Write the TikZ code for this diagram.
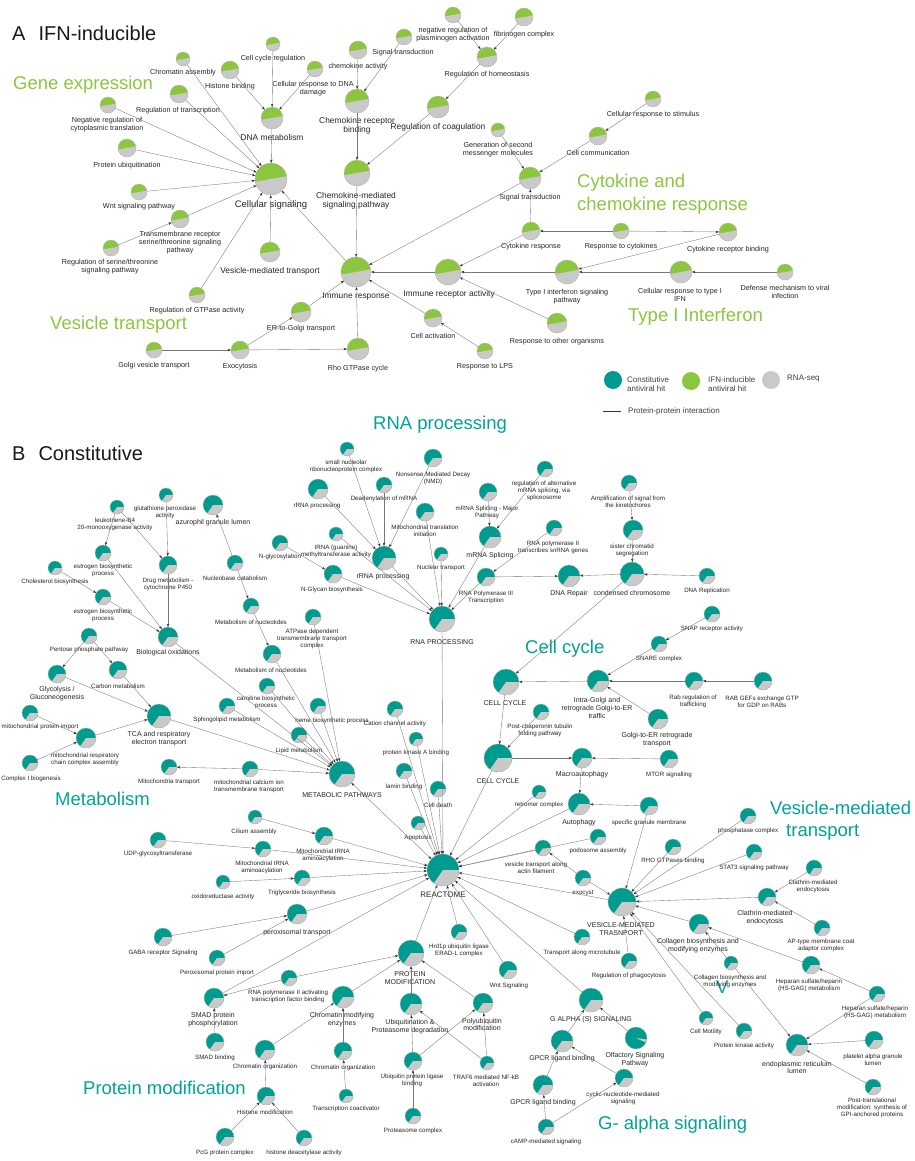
\documentclass[tikz,border=0pt]{standalone}
\usepackage{fontspec}
\setmainfont{Liberation Sans}
\usetikzlibrary{arrows.meta}
\definecolor{ig}{HTML}{8CC63F}
\definecolor{cg}{HTML}{009B8F}
\definecolor{rg}{HTML}{C9C9C9}
\definecolor{tg}{HTML}{8DC63F}
\definecolor{tt}{HTML}{00A39A}
\definecolor{ln}{HTML}{777777}
\tikzset{
 pienode/.style={circle, inner sep=0pt, outer sep=0pt, draw=none},
 graywedge/.style={fill=rg},
 pout/.style={draw=black!28, line width=0.3pt},
 edgearrow/.style={draw=ln, line width=0.35pt, -{Stealth[length=3.4pt,width=2.5pt,color=black!80]}},
 la/.style={font=\fontsize{7.2}{8}\selectfont, align=center, inner sep=0pt, text=black!85},
 lam/.style={font=\fontsize{8.4}{8.4}\selectfont, align=center, inner sep=0pt, text=black!85},
 lab/.style={font=\fontsize{6.2}{7}\selectfont, align=center, inner sep=0pt, text=black!85},
 labm/.style={font=\fontsize{7}{7.8}\selectfont, align=center, inner sep=0pt, text=black!85},
 grpA/.style={font=\fontsize{18.5}{22}\selectfont, text=tg, anchor=west, inner sep=0pt},
 grpB/.style={font=\fontsize{18.5}{22}\selectfont, text=tt, anchor=west, inner sep=0pt},
 ttl/.style={font=\fontsize{20}{24}\selectfont, anchor=west, inner sep=0pt, text=black!90},
 lgt/.style={font=\fontsize{8}{9.5}\selectfont, anchor=west, align=left, inner sep=0pt, text=black!75},
}
\newcommand{\pie}[7]{%
  \node[pienode, minimum size={2*#4pt}, fill=#5] (#1) at (#2,#3) {};
  \fill[graywedge] (#1.center) -- ++(#6:#4pt) arc[start angle=#6, end angle=#7, radius=#4pt] -- cycle;
  \draw[pout] (#1.center) circle[radius=#4pt];
}
\newcommand{\pa}[4]{\pie{#1}{#2}{#3}{#4}{ig}{190}{370}}
\newcommand{\pb}[4]{\pie{#1}{#2}{#3}{#4}{cg}{235}{360}}
\newcommand{\lab}[5][la]{\node[#1] (#2) at (#3,#4) {#5};}
\begin{document}
\begin{tikzpicture}[x=1pt,y=-1pt]
\fill[white] (0,0) rectangle (914,1161);
\useasboundingbox (0,0) rectangle (914,1161);

% ---------------- Panel A ----------------
\node[ttl] (titleA) at (12,33) {A\hspace{13pt}IFN-inducible};
\node[grpA] (gGene) at (13,85) {Gene expression};
\node[grpA] (gCyt1) at (577,183) {Cytokine and};
\node[grpA] (gCyt2) at (577,206) {chemokine response};
\node[grpA] (gVes) at (50,325) {Vesicle transport};
\node[grpA] (gIFN) at (628,317) {Type I Interferon};

\pa{chromAssembly}{183}{59}{7}
\pa{histone}{230}{70}{9}
\pa{cellCycleReg}{273}{44}{7}
\pa{dnaDamage}{315}{69}{8}
\pa{regTranscr}{179}{94}{9}
\pa{negReg}{108}{105}{8}
\pa{dnaMet}{272}{118}{11}
\pa{protUbiq}{127}{148}{9}
\pa{cellSig}{271}{179}{16}
\pa{wnt}{139}{192}{8}
\pa{chemAct}{358}{50}{9}
\pa{sigTop}{404}{37}{8}
\pa{plasmin}{453}{15}{8}
\pa{fibrin}{524}{17}{9}
\pa{homeo}{487}{57}{10}
\pa{chemRec}{357}{101}{12}
\pa{coag}{438}{107}{11}
\pa{chemMed}{357}{173}{13}
\pa{secMess}{498}{130}{7}
\pa{stimulus}{653}{99}{8}
\pa{cellComm}{598}{136}{9}
\pa{sigMid}{530}{178}{11}
\pa{cytResp}{531}{231}{9}
\pa{respCyt}{621}{231}{8}
\pa{cytRec}{728}{232}{9}
\pa{immResp}{356}{272}{15}
\pa{immRec}{448}{272}{13}
\pa{typeI}{567}{272}{12}
\pa{cellRespIFN}{681}{272}{11}
\pa{defense}{785}{272}{8}
\pa{otherOrg}{557}{323}{10}
\pa{cellAct}{433}{318}{9}
\pa{lps}{485}{351}{8}
\pa{transmem}{180}{219}{9}
\pa{serThr}{111}{248}{8}
\pa{vesMed}{270}{252}{10}
\pa{gtpase}{197}{295}{8}
\pa{erGolgi}{301}{312}{10}
\pa{golgiVes}{154}{350}{8}
\pa{exo}{240}{350}{9}
\pa{rho}{358}{349}{11}

\lab{lchromAssembly}{183}{73}{Chromatin assembly}
\lab{lhistone}{230}{87}{Histone binding}
\lab{lcellCycleReg}{273}{59}{Cell cycle regulation}
\lab{ldnaDamage}{313}{89}{Cellular response to DNA\\damage}
\lab{lregTranscr}{178}{111}{Regulation of transcription}
\lab{lnegReg}{107}{124.5}{Negative regulation of\\cytoplasmic translation}
\lab[lam]{ldnaMet}{272}{137}{DNA metabolism}
\lab{lprotUbiq}{127}{166}{Protein ubiquitination}
\node[lam, font=\fontsize{9.5}{10}\selectfont] (lcellSig) at (271,205) {Cellular signaling};
\lab{lwnt}{139}{207}{Wnt signaling pathway}
\lab{lchemAct}{358}{67}{chemokine activity}
\lab{lsigTop}{403}{53}{Signal transduction}
\lab{lplasmin}{453}{35}{negative regulation of\\plasminogen activation}
\lab{lfibrin}{524}{35}{fibrinogen complex}
\lab{lhomeo}{487}{75}{Regulation of homeostasis}
\lab[lam]{lchemRec}{357}{126}{Chemokine receptor\\binding}
\lab[lam]{lcoag}{438}{127}{Regulation of coagulation}
\lab[lam]{lchemMed}{356}{201}{Chemokine-mediated\\signaling pathway}
\lab{lsecMess}{498}{150}{Generation of second\\messenger molecules}
\lab{lstimulus}{653}{115}{Cellular response to stimulus}
\lab{lcellComm}{598}{153}{Cell communication}
\lab{lsigMid}{530}{198}{Signal transduction}
\lab{lcytResp}{531}{247}{Cytokine response}
\lab{lrespCyt}{621}{247}{Response to cytokines}
\lab{lcytRec}{728}{250}{Cytokine receptor binding}
\lab[lam]{limmResp}{356}{296}{Immune response}
\lab[lam]{limmRec}{449}{294}{Immune receptor activity}
\lab{ltypeI}{567}{297}{Type I interferon signaling\\pathway}
\lab{lcellRespIFN}{680}{295}{Cellular response to type I\\IFN}
\lab{ldefense}{785}{292}{Defense mechanism to viral\\infection}
\lab{lotherOrg}{557}{342}{Response to other organisms}
\lab{lcellAct}{433}{336}{Cell activation}
\lab{llps}{485}{367}{Response to LPS}
\lab{ltransmem}{180}{243}{Transmembrane receptor\\serine/threonine signaling\\pathway}
\lab{lserThr}{110}{267}{Regulation of serine/threonine\\signaling pathway}
\lab[lam]{lvesMed}{270}{271}{Vesicle-mediated transport}
\lab{lgtpase}{197}{311}{Regulation of GTPase activity}
\lab{lerGolgi}{301}{329}{ER-to-Golgi transport}
\lab{lgolgiVes}{154}{366}{Golgi vesicle transport}
\lab{lexo}{240}{367}{Exocytosis}
\lab{lrho}{358}{369}{Rho GTPase cycle}

\foreach \s/\t in {chromAssembly/cellSig, histone/dnaMet, cellCycleReg/dnaMet, dnaDamage/dnaMet,
  dnaMet/cellSig, regTranscr/cellSig, negReg/cellSig, protUbiq/cellSig, wnt/cellSig,
  transmem/cellSig, serThr/transmem, vesMed/cellSig, gtpase/cellSig, immResp/cellSig,
  chemAct/chemRec, sigTop/chemRec, chemRec/chemMed, coag/chemMed, homeo/coag,
  plasmin/homeo, fibrin/homeo, chemMed/immResp, sigMid/immResp, secMess/sigMid,
  stimulus/cellComm, cellComm/sigMid, cytResp/sigMid, respCyt/cytResp, respCyt/cytRec,
  cytResp/immRec, cytRec/typeI, cellRespIFN/typeI, defense/cellRespIFN, typeI/immRec,
  otherOrg/immRec, immRec/immResp, cellAct/immResp, lps/cellAct, erGolgi/immResp,
  rho/immResp, golgiVes/exo, exo/erGolgi, exo/rho}
  \draw[edgearrow] (\s) -- (\t);

% legend
\node[pienode, minimum size=18pt, fill=cg] (lgC) at (613,380) {};
\node[lgt] (lgCt) at (627,384) {Constitutive\\antiviral hit};
\node[pienode, minimum size=18pt, fill=ig] (lgI) at (691,381) {};
\node[lgt] (lgIt) at (708,384) {IFN-inducible\\antiviral hit};
\node[pienode, minimum size=18pt, fill=rg] (lgR) at (771,380) {};
\node[lgt] (lgRt) at (787,379) {RNA-seq};
\coordinate (ppiA) at (603,411);
\coordinate (ppiB) at (621,411);
\draw[black!80, line width=0.6pt] (ppiA) -- (ppiB);
\node[lgt] (lgP) at (628,411) {Protein-protein interaction};

% ---------------- Panel B ----------------
\node[ttl] (titleB) at (12,453) {B\hspace{13pt}Constitutive};
\node[grpB] (gRNA) at (373,425) {RNA processing};
\node[grpB] (gMet) at (55,799) {Metabolism};
\node[grpB] (gCC) at (525,649) {Cell cycle};
\node[grpB] (gVmt1) at (770,808) {Vesicle-mediated};
\node[grpB] (gVmt2) at (786,832) {transport};
\node[grpB] (gProt) at (83,1088) {Protein modification};
\node[grpB] (gGal) at (598,1125) {G- alpha signaling};
\node[grpB] (vmark) at (716,987) {V};

\pb{leuko}{117}{507}{7}
\pb{gluta}{166}{495}{7}
\pb{azuro}{213}{505}{10}
\pb{estrA}{103}{553}{8}
\pb{drug}{168}{565}{9}
\pb{nucleo}{235}{563}{8}
\pb{chol}{55}{568}{7}
\pb{estrB}{103}{597}{8}
\pb{pentose}{89}{636}{8}
\pb{bioOx}{168}{637}{10}
\pb{metNucA}{251}{606}{8}
\pb{atpase}{313}{617}{8}
\pb{glyco}{57}{674}{9}
\pb{carbon}{118}{670}{9}
\pb{metNucB}{272}{654}{9}
\pb{carn}{267}{686}{8}
\pb{sphingo}{227}{706}{8}
\pb{heme}{318}{706}{8}
\pb{lipid}{299}{735}{8}
\pb{tca}{159}{716}{12}
\pb{mitoImp}{30}{713}{8}
\pb{mitoResp}{86}{738}{10}
\pb{complexI}{30}{763}{8}
\pb{mitoTrans}{169}{767}{8}
\pb{mitoCa}{250}{769}{8}
\pb{metPath}{342}{774}{13}
\pb{cation}{395}{709}{8}
\pb{pka}{416}{739}{7}
\pb{lamin}{404}{771}{8}
\pb{rnaProc}{442}{619}{13}
\pb{celldeath}{438}{789}{8}
\pb{apopt}{418}{823}{7}
\pb{reactome}{443}{870}{16}

\pb{snoRNP}{347}{449}{7}
\pb{nmd}{433}{458}{9}
\pb{rrnaA}{318}{489}{10}
\pb{deadeny}{384}{485}{8}
\pb{mitoTransl}{425}{512}{9}
\pb{trna}{336}{534}{7}
\pb{nglyc}{280}{543}{8}
\pb{rrnaB}{384}{558}{12}
\pb{nglycan}{333}{574}{9}
\pb{nuclear}{441}{554}{7}
\pb{mrnaMaj}{488}{492}{9}
\pb{altSplice}{545}{469}{8}
\pb{mrnaSpl}{490}{537}{11}
\pb{snRNA}{554}{528}{8}
\pb{polIII}{486}{577}{9}
\pb{dnaRep}{569}{576}{11}
\pb{condChr}{632}{574}{12}
\pb{amplif}{629}{483}{8}
\pb{sister}{633}{530}{10}
\pb{dnaReplic}{707}{576}{8}

\pb{snap}{712}{614}{8}
\pb{snare}{659}{644}{8}
\pb{ccA}{506}{682}{13}
\pb{intraGolgi}{598}{681}{11}
\pb{rabReg}{694}{681}{9}
\pb{rabGef}{763}{681}{9}
\pb{golgiER}{658}{719}{10}
\pb{postChap}{541}{712}{8}
\pb{ccB}{498}{758}{14}
\pb{macro}{582}{758}{10}
\pb{mtor}{669}{759}{9}

\pb{retromer}{539}{792}{7}
\pb{autoph}{579}{804}{11}
\pb{specGran}{649}{806}{9}
\pb{podo}{598}{837}{8}
\pb{vesActin}{543}{848}{8}
\pb{exocyst}{583}{878}{8}
\pb{rhoGtp}{673}{847}{8}
\pb{phosph}{748}{816}{8}
\pb{stat}{754}{852}{8}
\pb{vmt}{622}{902}{14}
\pb{clathA}{814}{868}{8}
\pb{clathB}{767}{897}{9}
\pb{apType}{822}{928}{8}
\pb{collA}{699}{924}{10}
\pb{microtub}{582}{937}{8}
\pb{phago}{629}{961}{8}
\pb{collB}{731}{963}{7}
\pb{hepA}{811}{965}{9}
\pb{hepB}{877}{994}{8}
\pb{motility}{706}{1018}{7}
\pb{pkAct}{744}{1031}{8}
\pb{erLumen}{797}{1045}{11}
\pb{platelet}{874}{1040}{9}
\pb{gpi}{873}{1087}{8}

\pb{cilium}{255}{817}{7}
\pb{mitoTB}{324}{836}{9}
\pb{udp}{158}{840}{8}
\pb{mitoTA}{263}{849}{8}
\pb{oxido}{223}{882}{7}
\pb{trig}{302}{878}{8}
\pb{perox}{297}{914}{10}
\pb{gaba}{163}{937}{9}
\pb{peroxImp}{217}{958}{8}
\pb{polIIact}{289}{978}{8}
\pb{smadP}{214}{998}{10}
\pb{smadB}{215}{1042}{9}
\pb{chromMod}{343}{997}{11}
\pb{protMod}{411}{953}{13}
\pb{hrd}{459}{932}{8}
\pb{ubiq}{411}{1004}{11}
\pb{chromOrgA}{265}{1050}{10}
\pb{chromOrgB}{343}{1051}{9}
\pb{ligase}{413}{1061}{9}
\pb{histMod}{266}{1096}{9}
\pb{coact}{346}{1096}{7}
\pb{proteasome}{413}{1116}{8}
\pb{pcg}{225}{1137}{9}
\pb{hdac}{304}{1138}{8}
\pb{wntB}{508}{970}{9}
\pb{polyub}{483}{1003}{10}
\pb{traf}{487}{1063}{7}
\pb{galpha}{591}{1000}{12}
\pie{olfact}{636}{1038}{11}{cg}{335}{352}
\pb{gpcrA}{562}{1041}{11}
\pb{gpcrB}{543}{1085}{10}
\pb{cyclic}{624}{1078}{9}
\pb{camp}{546}{1127}{8}

% labels B
\lab[lab]{lleuko}{115}{524.5}{leukotriene-B4\\20-monooxygenase activity}
\lab[lab]{lgluta}{165}{512.5}{glutathione peroxidase\\activity}
\lab[labm]{lazuro}{213}{523}{azurophil granule lumen}
\lab[lab]{lestrA}{103}{570.5}{estrogen biosynthetic\\process}
\lab[lab]{ldrug}{168}{584.5}{Drug metabolism -\\cytochrome P450}
\lab[lab]{lnucleo}{235}{578}{Nucleobase catabolism}
\lab[lab]{lchol}{55}{582}{Cholesterol biosynthesis}
\lab[lab]{lestrB}{103}{615.5}{estrogen biosynthetic\\process}
\lab[lab]{lpentose}{89}{650}{Pentose phosphate pathway}
\lab[labm]{lbioOx}{168}{653}{Biological oxidations}
\lab[lab]{lmetNucA}{251}{622}{Metabolism of nucleotides}
\lab[lab]{latpase}{312}{639}{ATPase dependent\\transmembrane transport\\complex}
\lab[labm]{lglyco}{57}{694}{Glycolysis /\\Gluconeogenesis}
\lab[lab]{lcarbon}{118}{686}{Carbon metabolism}
\lab[lab]{lmetNucB}{271}{670}{Metabolism of nucleotides}
\lab[lab]{lcarn}{266}{702.5}{carnitine biosynthetic\\process}
\lab[lab]{lsphingo}{227}{720}{Sphingolipid metabolism}
\lab[lab]{lheme}{332}{721}{heme biosynthetic process}
\lab[lab]{llipid}{299}{751}{Lipid metabolism}
\lab[labm]{ltca}{159}{738.5}{TCA and respiratory\\electron transport}
\lab[lab]{lmitoImp}{40}{727}{mitochondrial protein import}
\lab[lab]{lmitoResp}{85}{759.5}{mitochondrial respiratory\\chain complex assembly}
\lab[lab]{lcomplexI}{31}{779}{Complex I biogenesis}
\lab[lab]{lmitoTrans}{169}{782}{Mitochondria transport}
\lab[lab]{lmitoCa}{249}{786.5}{mitochondrial calcium ion\\transmembrane transport}
\lab[labm]{lmetPath}{342}{795}{METABOLIC PATHWAYS}
\lab[lab]{lcation}{395}{724}{Cation channel activity}
\lab[lab]{lpka}{416}{753}{protein kinase A binding}
\lab[lab]{llamin}{404}{787}{lamin binding}
\lab[labm]{lrnaProc}{442}{642}{RNA PROCESSING}
\lab[lab]{lcelldeath}{438}{805}{Cell death}
\lab[lab]{lapopt}{418}{838}{Apoptosis}
\node[labm, font=\fontsize{8}{9}\selectfont] (lreactome) at (443,895) {REACTOME};

\lab[lab]{lsnoRNP}{346}{466.5}{small nucleolar\\ribonucleoprotein complex}
\lab[lab]{lnmd}{433}{478.5}{Nonsense Mediated Decay\\(NMD)}
\lab[lab]{lrrnaA}{317}{506}{rRNA processing}
\lab[lab]{ldeadeny}{384}{499}{Deadenylation of mRNA}
\lab[lab]{lmitoTransl}{425}{530.5}{Mitochondrial translation\\initiation}
\lab[lab]{ltrna}{336}{551.5}{tRNA (guanine)\\methyltransferase activity}
\lab[lab]{lnglyc}{280}{557}{N-glycosylation}
\lab[labm]{lrrnaB}{383}{577}{rRNA processing}
\lab[lab]{lnglycan}{332}{590}{N-Glycan biosynthesis}
\lab[lab]{lnuclear}{441}{568}{Nuclear transport}
\lab[lab]{lmrnaMaj}{487}{512}{mRNA Splicing - Major\\Pathway}
\lab[lab]{laltSplice}{544}{491}{regulation of alternative\\mRNA splicing, via\\spliceosome}
\lab[labm]{lmrnaSpl}{490}{556}{mRNA Splicing}
\lab[lab]{lsnRNA}{553}{547.5}{RNA polymerase II\\transcribes snRNA genes}
\lab[lab]{lpolIII}{486}{597}{RNA Polymerase III\\Transcription}
\lab[labm]{ldnaRep}{569}{594}{DNA Repair}
\lab[labm]{lcondChr}{632}{593}{condensed chromosome}
\lab[lab]{lamplif}{628}{501.5}{Amplification of signal from\\the kinetochores}
\lab[lab]{lsister}{632}{550.5}{sister chromatid\\segregation}
\lab[lab]{ldnaReplic}{707}{591}{DNA Replication}

\lab[lab]{lsnap}{712}{629}{SNAP receptor activity}
\lab[lab]{lsnare}{659}{659}{SNARE complex}
\lab[labm]{lccA}{505}{703}{CELL CYCLE}
\lab[labm]{lintraGolgi}{597}{708}{Intra-Golgi and\\retrograde Golgi-to-ER\\traffic}
\lab[lab]{lrabReg}{693}{701.5}{Rab regulation of\\trafficking}
\lab[lab]{lrabGef}{762}{701.5}{RAB GEFs exchange GTP\\for GDP on RABs}
\lab[labm]{lgolgiER}{657}{739.5}{Golgi-to-ER retrograde\\transport}
\lab[lab]{lpostChap}{540}{730.5}{Post-chaperonin tubulin\\folding pathway}
\lab[labm]{lccB}{498}{781}{CELL CYCLE}
\lab[labm]{lmacro}{582}{775}{Macroautophagy}
\lab[lab]{lmtor}{669}{775}{MTOR signalling}

\lab[lab]{lretromer}{539}{805}{retromer complex}
\lab[labm]{lautoph}{579}{823}{Autophagy}
\lab[lab]{lspecGran}{649}{823}{specific granule membrane}
\lab[lab]{lpodo}{598}{851}{podosome assembly}
\lab[lab]{lvesActin}{536}{867.5}{vesicle transport along\\actin filament}
\lab[lab]{lexocyst}{583}{893}{exocyst}
\lab[lab]{lrhoGtp}{673}{861}{RHO GTPases binding}
\lab[lab]{lphosph}{748}{831}{phosphatase complex}
\lab[lab]{lstat}{754}{868}{STAT3 signaling pathway}
\lab[labm]{lvmt}{621}{929}{VESICLE-MEDIATED\\TRASNPORT}
\lab[lab]{lclathA}{813}{886}{Clathrin-mediated\\endocytosis}
\lab[labm]{lclathB}{765}{918}{Clathrin-mediated\\endocytosis}
\lab[lab]{lapType}{821}{945.5}{AP-type membrane coat\\adaptor complex}
\lab[labm]{lcollA}{698}{945.5}{Collagen biosynthesis and\\modifying enzymes}
\lab[lab]{lmicrotub}{582}{953}{Transport along microtubule}
\lab[lab]{lphago}{629}{976}{Regulation of phagocytosis}
\lab[lab]{lcollB}{730}{981}{Collagen biosynthesis and\\modifying enzymes}
\lab[lab]{lhepA}{809}{985.5}{Heparan sulfate/heparin\\(HS-GAG) metabolism}
\lab[lab]{lhepB}{875}{1012.5}{Heparan sulfate/heparin\\(HS-GAG) metabolism}
\lab[lab]{lmotility}{706}{1032}{Cell Motility}
\lab[lab]{lpkAct}{744}{1046}{Protein kinase activity}
\lab[labm]{lerLumen}{797}{1067.5}{endoplasmic reticulum\\lumen}
\lab[lab]{lplatelet}{873}{1059.5}{platelet alpha granule\\lumen}
\lab[lab]{lgpi}{872}{1107.5}{Post-translational\\modification: synthesis of\\GPI-anchored proteins}

\lab[lab]{lcilium}{254}{832}{Cilium assembly}
\lab[lab]{lmitoTB}{323}{855.5}{Mitochondrial tRNA\\aminoacylation}
\lab[lab]{ludp}{158}{854}{UDP-glycosyltransferase}
\lab[lab]{lmitoTA}{262}{867.5}{Mitochondrial tRNA\\aminoacylation}
\lab[lab]{loxido}{223}{897}{oxidoreductase activity}
\lab[lab]{ltrig}{302}{893}{Triglyceride biosynthesis}
\lab[labm]{lperox}{297}{933}{peroxisomal transport}
\lab[lab]{lgaba}{163}{953}{GABA receptor Signaling}
\lab[lab]{lperoxImp}{217}{973}{Peroxisomal protein import}
\lab[lab]{lpolIIact}{288}{996.5}{RNA polymerase II activating\\transcription factor binding}
\lab[labm]{lsmadP}{213}{1019.5}{SMAD protein\\phosphorylation}
\lab[lab]{lsmadB}{215}{1058}{SMAD binding}
\lab[labm]{lchromMod}{342}{1019.5}{Chromatin modifying\\enzymes}
\lab[labm]{lprotMod}{410}{978}{PROTEIN\\MODIFICATION}
\lab[lab]{lhrd}{459}{950}{Hrd1p ubiquitin ligase\\ERAD-L complex}
\lab[labm]{lubiq}{410}{1027}{Ubiquitination \&\\Proteasome degradation}
\lab[lab]{lchromOrgA}{265}{1067}{Chromatin organization}
\lab[lab]{lchromOrgB}{343}{1068}{Chromatin organization}
\lab[lab]{lligase}{412}{1080.5}{Ubiquitin protein ligase\\binding}
\lab[lab]{lhistMod}{265}{1112}{Histone modification}
\lab[lab]{lcoact}{346}{1109}{Transcription coactivator}
\lab[lab]{lproteasome}{413}{1131}{Proteasome complex}
\lab[lab]{lpcg}{225}{1153}{PcG protein complex}
\lab[lab]{lhdac}{304}{1153}{histone deacetylase activity}
\lab[lab]{lwntB}{509}{986}{Wnt Signaling}
\lab[labm]{lpolyub}{482}{1024.5}{Polyubiquitin\\modification}
\lab[lab]{ltraf}{486}{1080.5}{TRAF6 mediated NF-kB\\activation}
\lab[labm]{lgalpha}{591}{1020}{G ALPHA (S) SIGNALING}
\lab[labm]{lolfact}{635}{1059.5}{Olfactory Signaling\\Pathway}
\lab[labm]{lgpcrA}{562}{1059}{GPCR ligand binding}
\lab[labm]{lgpcrB}{543}{1103}{GPCR ligand binding}
\lab[lab]{lcyclic}{623}{1098.5}{cyclic-nucleotide-mediated\\signaling}
\lab[lab]{lcamp}{546}{1142}{cAMP-mediated signaling}

% edges B
\foreach \s/\t in {leuko/estrA, leuko/drug, gluta/drug, estrA/bioOx, chol/estrB, estrB/bioOx,
  drug/bioOx, bioOx/metPath, pentose/glyco, pentose/carbon, glyco/tca, carbon/tca,
  mitoImp/mitoResp, complexI/mitoResp, mitoResp/tca, tca/metPath, nucleo/azuro,
  nucleo/metNucA, metNucA/metNucB, metNucB/metPath, atpase/metPath, carn/metPath,
  sphingo/metPath, heme/metPath, lipid/metPath, mitoCa/mitoTrans, mitoCa/metPath,
  rnaProc/reactome, cation/reactome, pka/reactome, lamin/reactome, celldeath/reactome,
  apopt/reactome,
  snoRNP/rrnaB, deadeny/rrnaB, nmd/rrnaB, rrnaA/rrnaB, trna/rnaProc, nglyc/nglycan,
  nglycan/rnaProc, rrnaB/rnaProc, mitoTransl/rnaProc, nuclear/rnaProc, mrnaMaj/mrnaSpl,
  altSplice/mrnaSpl, mrnaSpl/rnaProc, snRNA/polIII, polIII/rnaProc, polIII/dnaRep,
  condChr/dnaRep, sister/condChr, amplif/sister, dnaReplic/condChr, condChr/ccA,
  snap/snare, snare/intraGolgi, rabReg/intraGolgi, rabGef/rabReg, golgiER/intraGolgi,
  intraGolgi/ccA, ccA/ccB, postChap/ccB, ccB/macro, mtor/macro, macro/autoph, ccB/reactome,
  retromer/reactome, autoph/reactome, specGran/autoph, specGran/vmt, podo/reactome,
  vesActin/reactome, exocyst/vesActin, exocyst/vmt, vmt/reactome, rhoGtp/vmt, phosph/vmt,
  stat/vmt, clathA/clathB, clathB/vmt, apType/clathB, collA/vmt, collB/collA, hepA/collA,
  microtub/reactome, phago/vmt, motility/vmt, pkAct/vmt, collB/erLumen, hepB/hepA,
  hepB/erLumen, platelet/erLumen, gpi/erLumen,
  cilium/mitoTB, udp/mitoTA, mitoTB/reactome, mitoTA/reactome, oxido/trig, trig/reactome,
  perox/reactome, gaba/perox, peroxImp/perox, smadP/reactome, polIIact/smadP,
  polIIact/protMod, smadB/smadP, chromMod/protMod, chromOrgA/chromMod, histMod/chromOrgA,
  pcg/histMod, hdac/histMod, chromOrgB/chromMod, coact/chromOrgB, ubiq/protMod,
  ligase/ubiq, proteasome/ligase, ligase/polyub, traf/polyub, traf/ubiq, polyub/protMod,
  hrd/reactome, protMod/reactome, wntB/reactome, galpha/reactome, gpcrA/galpha,
  olfact/galpha, gpcrB/gpcrA, cyclic/gpcrA, camp/gpcrB, camp/cyclic}
  \draw[edgearrow] (\s) -- (\t);
\draw[draw=ln, line width=0.35pt, {Stealth[length=3.4pt,width=2.5pt,color=black!80]}-{Stealth[length=3.4pt,width=2.5pt,color=black!80]}] (metPath) -- (reactome);
\end{tikzpicture}
\end{document}
